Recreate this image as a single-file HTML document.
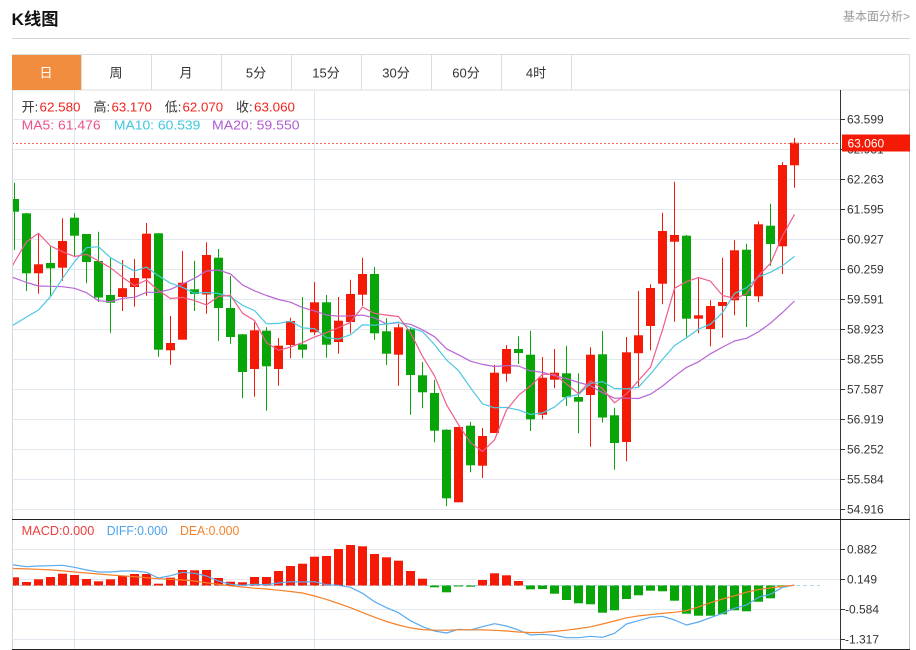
<!DOCTYPE html>
<html><head><meta charset="utf-8"><style>
html,body{margin:0;padding:0;background:#fff;}
svg{display:block;}
</style></head><body>
<svg width="916" height="650" viewBox="0 0 916 650" xmlns="http://www.w3.org/2000/svg" font-family="'Liberation Sans','Noto Sans CJK SC',sans-serif">
<defs>
<clipPath id="cm"><rect x="12" y="90" width="828" height="429"/></clipPath>
<clipPath id="cd"><rect x="12" y="520" width="828" height="129"/></clipPath>
</defs>
<rect width="916" height="650" fill="#fff"/>
<!-- header -->
<text x="11.5" y="25" font-size="17" font-weight="bold" fill="#111" textLength="47" lengthAdjust="spacingAndGlyphs">K线图</text>
<text x="843" y="20.5" font-size="12" fill="#999" textLength="67" lengthAdjust="spacingAndGlyphs">基本面分析&gt;</text>
<line x1="12" y1="38.5" x2="910" y2="38.5" stroke="#d4d4d4"/>
<!-- tabs -->
<rect x="12.5" y="54.5" width="897" height="35.5" fill="#fff" stroke="#dcdcdc"/>
<rect x="12" y="55" width="69" height="35" fill="#f28d3f"/>
<g stroke="#dcdcdc">
<line x1="81.5" y1="54" x2="81.5" y2="90"/><line x1="151.5" y1="54" x2="151.5" y2="90"/><line x1="221.5" y1="54" x2="221.5" y2="90"/><line x1="291.5" y1="54" x2="291.5" y2="90"/><line x1="361.5" y1="54" x2="361.5" y2="90"/><line x1="431.5" y1="54" x2="431.5" y2="90"/><line x1="501.5" y1="54" x2="501.5" y2="90"/><line x1="571.5" y1="54" x2="571.5" y2="90"/>
</g>
<g font-size="13" text-anchor="middle" fill="#333">
<text x="46" y="77.5" fill="#fff">日</text><text x="116" y="77.5">周</text><text x="186" y="77.5">月</text><text x="256" y="77.5">5分</text><text x="326" y="77.5">15分</text><text x="396" y="77.5">30分</text><text x="466" y="77.5">60分</text><text x="536" y="77.5">4时</text>
</g>
<!-- grid -->
<g stroke="#e3e8ee">
<line x1="12" y1="119.5" x2="840" y2="119.5"/><line x1="12" y1="149.5" x2="840" y2="149.5"/><line x1="12" y1="179.5" x2="840" y2="179.5"/><line x1="12" y1="209.5" x2="840" y2="209.5"/><line x1="12" y1="239.5" x2="840" y2="239.5"/><line x1="12" y1="269.5" x2="840" y2="269.5"/><line x1="12" y1="299.5" x2="840" y2="299.5"/><line x1="12" y1="329.5" x2="840" y2="329.5"/><line x1="12" y1="359.5" x2="840" y2="359.5"/><line x1="12" y1="389.5" x2="840" y2="389.5"/><line x1="12" y1="419.5" x2="840" y2="419.5"/><line x1="12" y1="449.5" x2="840" y2="449.5"/><line x1="12" y1="479.5" x2="840" y2="479.5"/><line x1="12" y1="509.5" x2="840" y2="509.5"/>
<line x1="12" y1="549.5" x2="840" y2="549.5"/><line x1="12" y1="579.5" x2="840" y2="579.5"/><line x1="12" y1="609.5" x2="840" y2="609.5"/><line x1="12" y1="639.5" x2="840" y2="639.5"/>
</g>
<g stroke="#dde7f1">
<line x1="74.5" y1="90" x2="74.5" y2="649"/><line x1="314.5" y1="90" x2="314.5" y2="649"/>
</g>
<!-- legend -->
<g font-size="13">
<text x="21.6" y="111.5" fill="#333">开:</text><text x="39.5" y="111.5" fill="#f0231e" textLength="41" lengthAdjust="spacingAndGlyphs">62.580</text>
<text x="93.5" y="111.5" fill="#333">高:</text><text x="111.5" y="111.5" fill="#f0231e" textLength="40.4" lengthAdjust="spacingAndGlyphs">63.170</text>
<text x="164.7" y="111.5" fill="#333">低:</text><text x="182.5" y="111.5" fill="#f0231e" textLength="40.6" lengthAdjust="spacingAndGlyphs">62.070</text>
<text x="236" y="111.5" fill="#333">收:</text><text x="254" y="111.5" fill="#f0231e" textLength="41" lengthAdjust="spacingAndGlyphs">63.060</text>
<text x="21.6" y="129.5" fill="#e9508c" textLength="79" lengthAdjust="spacingAndGlyphs">MA5: 61.476</text>
<text x="113.9" y="129.5" fill="#3ec7df" textLength="86.5" lengthAdjust="spacingAndGlyphs">MA10: 60.539</text>
<text x="212" y="129.5" fill="#b05bd2" textLength="87.6" lengthAdjust="spacingAndGlyphs">MA20: 59.550</text>
</g>
<g font-size="12.5">
<text x="21.7" y="535" fill="#f03c3c" textLength="72.6" lengthAdjust="spacingAndGlyphs">MACD:0.000</text>
<text x="106.7" y="535" fill="#4aa3f0" textLength="61" lengthAdjust="spacingAndGlyphs">DIFF:0.000</text>
<text x="180" y="535" fill="#f5822a" textLength="59.3" lengthAdjust="spacingAndGlyphs">DEA:0.000</text>
</g>
<!-- candles -->
<g clip-path="url(#cm)">
<path fill="none" stroke="#f41a05" stroke-width="1" d="M38.5 234V293.7M62.5 218.3V280.7M122.5 260V311M134.5 259V306.7M146.5 223V295.7M170.5 316V364.7M182.5 251V339.7M206.5 242.3V313.7M254.5 322.3V396.7M278.5 338V385.7M290.5 317.7V358.3M314.5 282V335M338.5 297V353.7M350.5 279.7V333.3M362.5 257.7V305.7M398.5 324V385.7M458.5 426.7V502.3M482.5 428V478M494.5 364.7V433M506.5 345V381.7M542.5 357V419.3M554.5 349V388.3M590.5 347.3V446.7M626.5 337V461.3M638.5 291V387.7M650.5 284.3V350.3M662.5 212.7V304.3M674.5 181.7V321.7M698.5 277V333.3M710.5 300.3V346.3M722.5 257.7V337.7M734.5 240.3V315.3M758.5 221.3V302M782.5 162.3V274M794.5 138V187.7"/>
<g fill="#f41a05">
<rect x="34" y="264.3" width="9" height="9"/><rect x="58" y="241" width="9" height="26.7"/><rect x="118" y="288.2" width="9" height="8.8"/><rect x="130" y="278" width="9" height="9"/><rect x="142" y="233.7" width="9" height="44.6"/><rect x="166" y="343" width="9" height="7.3"/><rect x="178" y="282.7" width="9" height="57"/><rect x="202" y="255" width="9" height="39.5"/><rect x="250" y="330.3" width="9" height="38.7"/><rect x="274" y="345.7" width="9" height="23.3"/><rect x="286" y="321" width="9" height="24"/><rect x="310" y="302.3" width="9" height="30"/><rect x="334" y="320.7" width="9" height="21.3"/><rect x="346" y="294" width="9" height="28"/><rect x="358" y="274" width="9" height="20.7"/><rect x="394" y="327.3" width="9" height="27.4"/><rect x="454" y="427" width="9" height="75.3"/><rect x="478" y="436" width="9" height="29.7"/><rect x="490" y="372.7" width="9" height="60.3"/><rect x="502" y="349" width="9" height="24.7"/><rect x="538" y="377.7" width="9" height="37"/><rect x="550" y="372.7" width="9" height="7"/><rect x="586" y="354.7" width="9" height="40.3"/><rect x="622" y="352.3" width="9" height="89.7"/><rect x="634" y="335.3" width="9" height="17.9"/><rect x="646" y="288" width="9" height="38"/><rect x="658" y="231" width="9" height="52.7"/><rect x="670" y="235" width="9" height="6.7"/><rect x="694" y="315.3" width="9" height="3.4"/><rect x="706" y="306" width="9" height="23"/><rect x="718" y="302" width="9" height="4"/><rect x="730" y="250.3" width="9" height="50"/><rect x="754" y="224.3" width="9" height="72"/><rect x="778" y="165" width="9" height="81.3"/><rect x="790" y="142.7" width="9" height="22.6"/>
</g>
<path fill="none" stroke="#07a507" stroke-width="1" d="M14.5 182.7V250M26.5 213V291M50.5 245.7V296M74.5 213.3V257M86.5 234V283.3M98.5 231.7V302M110.5 257.7V332.7M158.5 233V356.7M194.5 260.7V311M218.5 249V341M230.5 276V343.7M242.5 334V398.3M266.5 327.3V410.7M302.5 297V358.3M326.5 295V357.7M374.5 267V339.7M386.5 318.3V365M410.5 327.3V414.7M422.5 362V408.3M434.5 380V442.3M446.5 429.3V506M470.5 422V472.3M518.5 336.3V364M530.5 330.7V431M566.5 345.7V406M578.5 373.3V433.3M602.5 331V422.5M614.5 407.7V469.7M686.5 235V336.7M746.5 243.7V327M770.5 203.7V265.7"/>
<g fill="#07a507">
<rect x="10" y="199" width="9" height="12.7"/><rect x="22" y="213.3" width="9" height="60"/><rect x="46" y="263" width="9" height="5.3"/><rect x="70" y="217.7" width="9" height="18"/><rect x="82" y="234" width="9" height="28"/><rect x="94" y="261" width="9" height="36.5"/><rect x="106" y="295" width="9" height="7.7"/><rect x="154" y="233.3" width="9" height="116.4"/><rect x="190" y="289.3" width="9" height="4.7"/><rect x="214" y="257.7" width="9" height="50.3"/><rect x="226" y="308" width="9" height="29"/><rect x="238" y="334.3" width="9" height="37.7"/><rect x="262" y="330.7" width="9" height="35.6"/><rect x="298" y="344.3" width="9" height="5.4"/><rect x="322" y="302.3" width="9" height="42.4"/><rect x="370" y="274" width="9" height="59.3"/><rect x="382" y="331.3" width="9" height="22.4"/><rect x="406" y="329.3" width="9" height="45.7"/><rect x="418" y="375.3" width="9" height="17"/><rect x="430" y="393" width="9" height="37.7"/><rect x="442" y="429.7" width="9" height="68.6"/><rect x="466" y="425.7" width="9" height="39.6"/><rect x="514" y="349" width="9" height="4"/><rect x="526" y="354.7" width="9" height="64.6"/><rect x="562" y="373.3" width="9" height="24"/><rect x="574" y="397" width="9" height="4.7"/><rect x="598" y="354.3" width="9" height="63.2"/><rect x="610" y="415.3" width="9" height="27.7"/><rect x="682" y="235.7" width="9" height="83"/><rect x="742" y="249.7" width="9" height="46.3"/><rect x="766" y="225.7" width="9" height="18.3"/>
</g>
<g fill="none" stroke-width="1.2" stroke-linejoin="round">
<polyline stroke="#b865d4" points="2.5,274 14.5,278 26.5,282.5 38.5,286 50.5,286.3 62.5,286.7 74.5,288.3 86.5,292.7 98.5,300.7 110.5,301.7 122.5,298.3 134.5,297.3 146.5,292.3 158.5,292.3 170.5,289.3 182.5,284 194.5,278.3 206.5,271 218.5,270 230.5,274 242.5,284.9 254.5,290.8 266.5,295.5 278.5,299.5 290.5,302.2 302.5,307.6 314.5,310.9 326.5,315.1 338.5,316.2 350.5,315.8 362.5,315.1 374.5,317.9 386.5,323.9 398.5,322.7 410.5,324.3 422.5,329.8 434.5,336.7 446.5,348.8 458.5,354.8 470.5,361.2 482.5,364.4 494.5,366.5 506.5,365.6 518.5,366 530.5,370.9 542.5,372.3 554.5,375.8 566.5,378.5 578.5,382.5 590.5,385.6 602.5,392.7 614.5,398.2 626.5,398.1 638.5,398.5 650.5,394.2 662.5,386.1 674.5,376.3 686.5,367.4 698.5,361.8 710.5,353.8 722.5,347.1 734.5,341 746.5,338.3 758.5,331.9 770.5,323.1 782.5,312.5 794.5,301"/>
<polyline stroke="#4cc8e0" points="2.5,331 14.5,324.3 26.5,317 38.5,310 50.5,296.7 62.5,278.3 74.5,261.7 86.5,247.7 98.5,246.7 110.5,257.7 122.5,264.5 134.5,271.1 146.5,267.1 158.5,275.7 170.5,283.2 182.5,287.3 194.5,293.2 206.5,292.5 218.5,293.5 230.5,296.9 242.5,305.3 254.5,310.5 266.5,323.8 278.5,323.4 290.5,321.2 302.5,327.9 314.5,328.7 326.5,337.7 338.5,339 350.5,334.7 362.5,324.9 374.5,325.2 386.5,323.9 398.5,322.1 410.5,327.5 422.5,331.7 434.5,344.6 446.5,359.9 458.5,370.6 470.5,387.7 482.5,403.9 494.5,407.8 506.5,407.4 518.5,409.9 530.5,414.4 542.5,412.9 554.5,407.1 566.5,397 578.5,394.5 590.5,383.4 602.5,381.6 614.5,388.6 626.5,388.9 638.5,387.2 650.5,374 662.5,359.4 674.5,345.6 686.5,337.7 698.5,329.1 710.5,324.2 722.5,312.7 734.5,293.4 746.5,287.8 758.5,276.7 770.5,272.3 782.5,265.7 794.5,256.4"/>
<polyline stroke="#ef5d8f" points="2.5,284 14.5,262 26.5,241.7 38.5,233.3 50.5,246 62.5,251.7 74.5,256.5 86.5,254.3 98.5,260.9 110.5,267.8 122.5,277.2 134.5,285.7 146.5,280 158.5,290.5 170.5,298.5 182.5,297.4 194.5,300.6 206.5,304.9 218.5,296.5 230.5,295.3 242.5,313.2 254.5,320.5 266.5,342.7 278.5,350.3 290.5,347.1 302.5,342.6 314.5,337 326.5,332.7 338.5,327.7 350.5,322.3 362.5,307.1 374.5,313.3 386.5,315.1 398.5,316.5 410.5,332.7 422.5,356.3 434.5,375.8 446.5,404.7 458.5,424.7 470.5,442.7 482.5,451.5 494.5,439.9 506.5,410 518.5,395.2 530.5,386 542.5,374.3 554.5,374.3 566.5,384 578.5,393.7 590.5,380.8 602.5,388.8 614.5,402.8 626.5,393.8 638.5,380.6 650.5,367.2 662.5,329.9 674.5,288.3 686.5,281.6 698.5,277.6 710.5,281.2 722.5,295.4 734.5,298.5 746.5,293.9 758.5,275.7 770.5,263.3 782.5,235.9 794.5,214.4"/>
</g>
<line x1="12" y1="143.5" x2="840" y2="143.5" stroke="#f06a60" stroke-dasharray="2,2"/>
</g>
<!-- MACD -->
<g clip-path="url(#cd)">
<line x1="12" y1="585.5" x2="820" y2="585.5" stroke="#a9d4ea" stroke-dasharray="4,3"/>
<g fill="#f41a05">
<rect x="10" y="577.3" width="9" height="8.2"/><rect x="22" y="582" width="9" height="3.5"/><rect x="34" y="579.3" width="9" height="6.2"/><rect x="46" y="577" width="9" height="8.5"/><rect x="58" y="573.7" width="9" height="11.8"/><rect x="70" y="575" width="9" height="10.5"/><rect x="82" y="579" width="9" height="6.5"/><rect x="94" y="581.3" width="9" height="4.2"/><rect x="106" y="579.3" width="9" height="6.2"/><rect x="118" y="576" width="9" height="9.5"/><rect x="130" y="574" width="9" height="11.5"/><rect x="142" y="574" width="9" height="11.5"/><rect x="154" y="583.7" width="9" height="1.8"/><rect x="166" y="577.7" width="9" height="7.8"/><rect x="178" y="570" width="9" height="15.5"/><rect x="190" y="570.3" width="9" height="15.2"/><rect x="202" y="570" width="9" height="15.5"/><rect x="214" y="578" width="9" height="7.5"/><rect x="226" y="581.7" width="9" height="3.8"/><rect x="238" y="582.3" width="9" height="3.2"/><rect x="250" y="577" width="9" height="8.5"/><rect x="262" y="577" width="9" height="8.5"/><rect x="274" y="571" width="9" height="14.5"/><rect x="286" y="566" width="9" height="19.5"/><rect x="298" y="563.7" width="9" height="21.8"/><rect x="310" y="556.7" width="9" height="28.8"/><rect x="322" y="556" width="9" height="29.5"/><rect x="334" y="549" width="9" height="36.5"/><rect x="346" y="545" width="9" height="40.5"/><rect x="358" y="546.3" width="9" height="39.2"/><rect x="370" y="554" width="9" height="31.5"/><rect x="382" y="557.3" width="9" height="28.2"/><rect x="394" y="560.7" width="9" height="24.8"/><rect x="406" y="571" width="9" height="14.5"/><rect x="418" y="578.7" width="9" height="6.8"/><rect x="478" y="580" width="9" height="5.5"/><rect x="490" y="573.3" width="9" height="12.2"/><rect x="502" y="575.3" width="9" height="10.2"/><rect x="514" y="581" width="9" height="4.5"/>
</g>
<g fill="#07a507">
<rect x="430" y="585.5" width="9" height="1.8"/><rect x="442" y="585.5" width="9" height="6.8"/><rect x="454" y="585.5" width="9" height="1"/><rect x="466" y="585.5" width="9" height="1.2"/><rect x="526" y="585.5" width="9" height="3.8"/><rect x="538" y="585.5" width="9" height="3.5"/><rect x="550" y="585.5" width="9" height="8.2"/><rect x="562" y="585.5" width="9" height="14.5"/><rect x="574" y="585.5" width="9" height="17.8"/><rect x="586" y="585.5" width="9" height="18.8"/><rect x="598" y="585.5" width="9" height="27.2"/><rect x="610" y="585.5" width="9" height="24.8"/><rect x="622" y="585.5" width="9" height="13.5"/><rect x="634" y="585.5" width="9" height="9.8"/><rect x="646" y="585.5" width="9" height="5.2"/><rect x="658" y="585.5" width="9" height="5.8"/><rect x="670" y="585.5" width="9" height="15.2"/><rect x="682" y="585.5" width="9" height="28.2"/><rect x="694" y="585.5" width="9" height="30.2"/><rect x="706" y="585.5" width="9" height="30.2"/><rect x="718" y="585.5" width="9" height="28.8"/><rect x="730" y="585.5" width="9" height="24.8"/><rect x="742" y="585.5" width="9" height="25.8"/><rect x="754" y="585.5" width="9" height="16.2"/><rect x="766" y="585.5" width="9" height="12.8"/><rect x="778" y="585.5" width="9" height="1.8"/>
</g>
<g fill="none" stroke-width="1.2" stroke-linejoin="round">
<polyline stroke="#5aaaf0" points="2.5,563.3 14.5,565 26.5,566.7 38.5,566 50.5,565.7 62.5,565.3 74.5,567.3 86.5,570 98.5,572 110.5,572 122.5,571 134.5,571 146.5,572.3 158.5,578 170.5,575.7 182.5,572.3 194.5,573.3 206.5,576 218.5,581 230.5,584.3 242.5,585.3 254.5,584.3 266.5,584.7 278.5,583 290.5,581.7 302.5,582 314.5,581.7 326.5,584.7 338.5,585.3 350.5,587.3 362.5,593.3 374.5,601.7 386.5,607.7 398.5,612.7 410.5,620.7 422.5,626.7 434.5,631 446.5,633 458.5,629.3 470.5,630 482.5,626.7 494.5,623.7 506.5,626 518.5,630 530.5,635 542.5,634.3 554.5,635.3 566.5,637.7 578.5,637.7 590.5,636.3 602.5,637.3 614.5,633.3 626.5,624 638.5,620.7 650.5,617.3 662.5,616.3 674.5,620 686.5,625 698.5,622 710.5,617.7 722.5,613.3 734.5,608.3 746.5,605 758.5,597.3 770.5,594.3 782.5,587.3 794.5,585"/>
<polyline stroke="#f5822a" points="2.5,567.8 14.5,568.5 26.5,568.9 38.5,569.3 50.5,569.9 62.5,570.9 74.5,572 86.5,573 98.5,574 110.5,575 122.5,575.8 134.5,576.7 146.5,577.7 158.5,578.7 170.5,579.4 182.5,580 194.5,581 206.5,582.8 218.5,584.3 230.5,585.8 242.5,587 254.5,588.2 266.5,589 278.5,590.2 290.5,591.5 302.5,593 314.5,596 326.5,599.4 338.5,603.5 350.5,607.7 362.5,612.6 374.5,617.2 386.5,621.5 398.5,625 410.5,627.9 422.5,629.6 434.5,630.2 446.5,630.2 458.5,629.8 470.5,629.8 482.5,629.9 494.5,630.3 506.5,631 518.5,632 530.5,632.6 542.5,632.4 554.5,631.4 566.5,630.2 578.5,628.6 590.5,626.8 602.5,624 614.5,621 626.5,617.8 638.5,615.9 650.5,614.6 662.5,613.4 674.5,612.3 686.5,610.6 698.5,606.9 710.5,602.7 722.5,599 734.5,595.8 746.5,592.2 758.5,589.5 770.5,587.9 782.5,586.4 794.5,585.2"/>
</g>
</g>
<!-- frame & axis -->
<line x1="12.5" y1="90" x2="12.5" y2="649" stroke="#cfd6dd"/>
<line x1="909.5" y1="90" x2="909.5" y2="649" stroke="#c4c4c4"/>
<line x1="840.5" y1="90" x2="840.5" y2="649" stroke="#333"/>
<line x1="12" y1="519.5" x2="910" y2="519.5" stroke="#222"/>
<line x1="12" y1="649.5" x2="910" y2="649.5" stroke="#222"/>
<g stroke="#333">
<line x1="840" y1="119.5" x2="845" y2="119.5"/><line x1="840" y1="149.5" x2="845" y2="149.5"/><line x1="840" y1="179.5" x2="845" y2="179.5"/><line x1="840" y1="209.5" x2="845" y2="209.5"/><line x1="840" y1="239.5" x2="845" y2="239.5"/><line x1="840" y1="269.5" x2="845" y2="269.5"/><line x1="840" y1="299.5" x2="845" y2="299.5"/><line x1="840" y1="329.5" x2="845" y2="329.5"/><line x1="840" y1="359.5" x2="845" y2="359.5"/><line x1="840" y1="389.5" x2="845" y2="389.5"/><line x1="840" y1="419.5" x2="845" y2="419.5"/><line x1="840" y1="449.5" x2="845" y2="449.5"/><line x1="840" y1="479.5" x2="845" y2="479.5"/><line x1="840" y1="509.5" x2="845" y2="509.5"/>
<line x1="840" y1="549.5" x2="845" y2="549.5"/><line x1="840" y1="579.5" x2="845" y2="579.5"/><line x1="840" y1="609.5" x2="845" y2="609.5"/><line x1="840" y1="639.5" x2="845" y2="639.5"/>
</g>
<g font-size="12" fill="#333">
<text x="847" y="123.7">63.599</text><text x="847" y="153.7">62.931</text><text x="847" y="183.7">62.263</text><text x="847" y="213.7">61.595</text><text x="847" y="243.7">60.927</text><text x="847" y="273.7">60.259</text><text x="847" y="303.7">59.591</text><text x="847" y="333.7">58.923</text><text x="847" y="363.7">58.255</text><text x="847" y="393.7">57.587</text><text x="847" y="423.7">56.919</text><text x="847" y="453.7">56.252</text><text x="847" y="483.7">55.584</text><text x="847" y="513.7">54.916</text>
<text x="847" y="553.7">0.882</text><text x="847" y="583.7">0.149</text><text x="845" y="613.7">-0.584</text><text x="845" y="643.7">-1.317</text>
</g>
<rect x="842" y="134.5" width="68" height="17" fill="#f41a05"/>
<text x="847.5" y="147.6" font-size="12" fill="#fff">63.060</text>
</svg>
</body></html>
